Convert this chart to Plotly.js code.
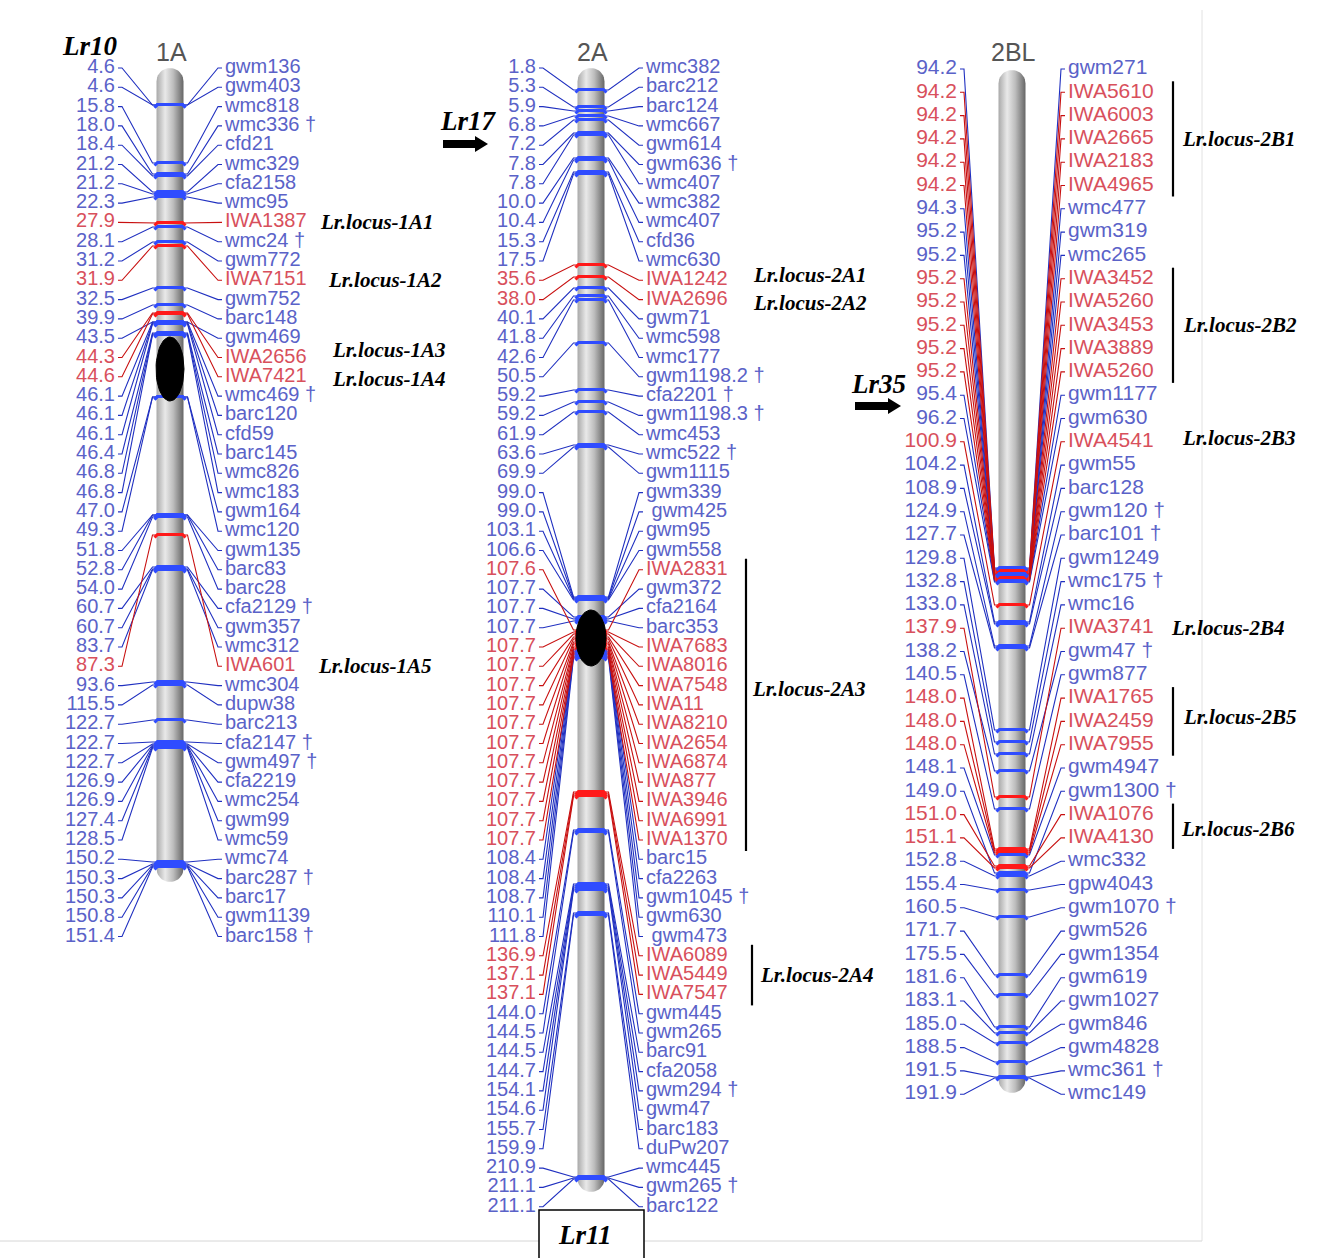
<!DOCTYPE html>
<html><head><meta charset="utf-8">
<script src="https://cdn.plot.ly/plotly-3.0.1.min.js"></script>
<style>html,body{margin:0;padding:0;background:#fff}</style>
</head><body><div id="chart" style="width:1317px;height:1258px"></div>
<script>
// ================= DATA =================
// Chromosome 1A: genetic position (cM), marker name, drawn map position along the bar (offset from bar top)
const cM_1A = [4.6,4.6,15.8,18.0,18.4,21.2,21.2,22.3,27.9,28.1,31.2,31.9,32.5,39.9,43.5,44.3,44.6,46.1,46.1,46.1,46.4,46.8,46.8,47.0,49.3,51.8,52.8,54.0,60.7,60.7,83.7,87.3,93.6,115.5,122.7,122.7,122.7,126.9,126.9,127.4,128.5,150.2,150.3,150.3,150.8,151.4];
const names_1A = ['gwm136','gwm403','wmc818','wmc336 †','cfd21','wmc329','cfa2158','wmc95','IWA1387','wmc24 †','gwm772','IWA7151','gwm752','barc148','gwm469','IWA2656','IWA7421','wmc469 †','barc120','cfd59','barc145','wmc826','wmc183','gwm164','wmc120','gwm135','barc83','barc28','cfa2129 †','gwm357','wmc312','IWA601','wmc304','dupw38','barc213','cfa2147 †','gwm497 †','cfa2219','wmc254','gwm99','wmc59','wmc74','barc287 †','barc17','gwm1139','barc158 †'];
const mapPos_1A = [37,37,95,106,108,124,126,129,155,159,174,178,220,237,254,245,246,254,255,256,265,266,267,329,329,447,447,449,499,501,502,467,614,617,652,674,676,677,678,679,680,794,796,797,798,799];

// Chromosome 2A
const cM_2A = [1.8,5.3,5.9,6.8,7.2,7.8,7.8,10.0,10.4,15.3,17.5,35.6,38.0,40.1,41.8,42.6,50.5,59.2,59.2,61.9,63.6,69.9,99.0,99.0,103.1,106.6,107.6,107.7,107.7,107.7,107.7,107.7,107.7,107.7,107.7,107.7,107.7,107.7,107.7,107.7,107.7,108.4,108.4,108.7,110.1,111.8,136.9,137.1,137.1,144.0,144.5,144.5,144.7,154.1,154.6,155.7,159.9,210.9,211.1,211.1];
const names_2A = ['wmc382','barc212','barc124','wmc667','gwm614','gwm636 †','wmc407','wmc382','wmc407','cfd36','wmc630','IWA1242','IWA2696','gwm71','wmc598','wmc177','gwm1198.2 †','cfa2201 †','gwm1198.3 †','wmc453','wmc522 †','gwm1115','gwm339',' gwm425','gwm95','gwm558','IWA2831','gwm372','cfa2164','barc353','IWA7683','IWA8016','IWA7548','IWA11','IWA8210','IWA2654','IWA6874','IWA877','IWA3946','IWA6991','IWA1370','barc15','cfa2263','gwm1045 †','gwm630',' gwm473','IWA6089','IWA5449','IWA7547','gwm445','gwm265','barc91','cfa2058','gwm294 †','gwm47','barc183','duPw207','wmc445','gwm265 †','barc122'];
const mapPos_2A = [22,39,43,48,52,65,67,90,92,104,106,197,209,220,228,232,275,322,334,344,377,379,529,530,531,532,562,549,551,553,564,566,569,571,574,576,579,581,584,586,589,582,584,586,588,590,724,726,728,762,764,816,818,820,822,845,847,1109,1110,1111];

// Chromosome 2BL
const cM_2BL = [94.2,94.2,94.2,94.2,94.2,94.2,94.3,95.2,95.2,95.2,95.2,95.2,95.2,95.2,95.4,96.2,100.9,104.2,108.9,124.9,127.7,129.8,132.8,133.0,137.9,138.2,140.5,148.0,148.0,148.0,148.1,149.0,151.0,151.1,152.8,155.4,160.5,171.7,175.5,181.6,183.1,185.0,188.5,191.5,191.9];
const names_2BL = ['gwm271','IWA5610','IWA6003','IWA2665','IWA2183','IWA4965','wmc477','gwm319','wmc265','IWA3452','IWA5260','IWA3453','IWA3889','IWA5260','gwm1177','gwm630','IWA4541','gwm55','barc128','gwm120 †','barc101 †','gwm1249','wmc175 †','wmc16','IWA3741','gwm47 †','gwm877','IWA1765','IWA2459','IWA7955','gwm4947','gwm1300 †','IWA1076','IWA4130','wmc332','gpw4043','gwm1070 †','gwm526','gwm1354','gwm619','gwm1027','gwm846','gwm4828','wmc361 †','wmc149'];
const mapPos_2BL = [498,499,500,501,502,503,504,504,505,506,507,508,509,510,511,512,535,552,554,576,578,660,672,684,727,701,739,779,781,783,785,803,796,798,806,820,847,905,925,957,963,973,992,1007,1008];

// Leaf-rust loci (label, chromosome, row index where label sits, bracket rows)
const lociText  = ['Lr.locus-1A1','Lr.locus-1A2','Lr.locus-1A3','Lr.locus-1A4','Lr.locus-1A5','Lr.locus-2A1','Lr.locus-2A2','Lr.locus-2A3','Lr.locus-2A4','Lr.locus-2B1','Lr.locus-2B2','Lr.locus-2B3','Lr.locus-2B4','Lr.locus-2B5','Lr.locus-2B6'];
const lociChrom = [0,0,0,0,0,1,1,1,1,2,2,2,2,2,2];
const lociRow   = [8,11,14.6,16.1,31,10.7,12.2,32.2,47,3,11,15.85,24,27.8,32.6];
const lociBracket = [null,null,null,null,null,null,null,[26,40],[46,48],[1,5],[9,13],null,null,[27,29],[32,33]];
// Known genes
const genes = ['Lr10','Lr17','Lr35','Lr11'];
const chromNames = ['1A','2A','2BL'];

// ================= LAYOUT / DRAWING =================
const BLUE_TXT='#5a62c8', RED_TXT='#d8505c', BLUE_LN='#2030c0', RED_LN='#c81010', BLUE_TK='#2f4cff', RED_TK='#ff1a1a';
const chroms = [
 {cM:cM_1A, names:names_1A, pos:mapPos_1A, cx:170, top:68, bottom:882, w:27, row0:68, rowH:19.3, labL:115, labR:225, fs:20, cen:{y:369, ry:32, rx:14}, locX:[318,326,330,330,316]},
 {cM:cM_2A, names:names_2A, pos:mapPos_2A, cx:591, top:68, bottom:1192, w:27, row0:68, rowH:19.3, labL:536, labR:646, fs:20, cen:{y:638, ry:28, rx:15}, locX:[751,751,750,758], brX:[746,752]},
 {cM:cM_2BL, names:names_2BL, pos:mapPos_2BL, cx:1012, top:70, bottom:1093, w:27, row0:69, rowH:23.3, labL:957, labR:1068, fs:21, locX:[1180,1181,1180,1169,1181,1179], brX:1173}
];
const rowY = (c,i) => c.row0 + i*c.rowH;
const isRed = n => n.trim().startsWith('IWA');

const traces = [];
const shapes = [];
const annotations = [];
const base = {hoverinfo:'skip', showlegend:false, cliponaxis:false};

chroms.forEach((c, ci) => {
  const r = c.w/2, xl = c.cx - r, xr = c.cx + r;
  // chromosome body with rounded caps
  const bx=[], by=[];
  for (let k=0;k<=20;k++){ const t=Math.PI*k/20; bx.push(c.cx - r*Math.cos(t)); by.push(c.top + r - r*Math.sin(t)); }
  for (let k=0;k<=20;k++){ const t=Math.PI*k/20; bx.push(c.cx + r*Math.cos(t)); by.push(c.bottom - r + r*Math.sin(t)); }
  bx.push(bx[0]); by.push(by[0]);
  traces.push(Object.assign({type:'scatter', mode:'lines', x:bx, y:by, fill:'toself', line:{width:0, color:'rgba(0,0,0,0)'},
    fillcolor:'#bbbbbb',
    fillgradient:{type:'horizontal', start:xl, stop:xr, colorscale:[[0,'#a9a9a9'],[0.32,'#e9e9e9'],[0.62,'#bdbdbd'],[1,'#666666']]}}, base));

  // connectors and ticks
  const conn = {b:{x:[],y:[]}, r:{x:[],y:[]}}, tick = {b:{x:[],y:[]}, r:{x:[],y:[]}};
  c.names.forEach((n,i) => {
    const k = isRed(n) ? 'r' : 'b';
    const ly = rowY(c,i), ty = c.top + c.pos[i];
    const L = conn[k];
    L.x.push(c.labL+3, c.labL+7, xl-4, xl, null); L.y.push(ly, ly, ty, ty, null);
    L.x.push(c.labR-3, c.labR-7, xr+4, xr, null); L.y.push(ly, ly, ty, ty, null);
    const T = tick[k];
    T.x.push(xl-2, xl+1, xr-1, xr+2, null); T.y.push(ty+2.5, ty-0.5, ty-0.5, ty+2.5, null);
  });
  traces.push(Object.assign({type:'scatter', mode:'lines', x:conn.b.x, y:conn.b.y, line:{color:BLUE_LN, width:1.1}}, base));
  traces.push(Object.assign({type:'scatter', mode:'lines', x:conn.r.x, y:conn.r.y, line:{color:RED_LN, width:1.1}}, base));
  traces.push(Object.assign({type:'scatter', mode:'lines', x:tick.r.x, y:tick.r.y, line:{color:RED_TK, width:3}}, base));
  traces.push(Object.assign({type:'scatter', mode:'lines', x:tick.b.x, y:tick.b.y, line:{color:BLUE_TK, width:3}}, base));

  // centromere
  if (c.cen){
    const ex=[], ey=[];
    for (let k=0;k<=48;k++){ const t=2*Math.PI*k/48; ex.push(c.cx + c.cen.rx*Math.cos(t)); ey.push(c.cen.y + c.cen.ry*Math.sin(t)); }
    traces.push(Object.assign({type:'scatter', mode:'lines', x:ex, y:ey, fill:'toself', fillcolor:'#000', line:{color:'#000', width:1}}, base));
  }

  // labels
  const ys = c.names.map((n,i)=>rowY(c,i));
  const cols = c.names.map(n => isRed(n) ? RED_TXT : BLUE_TXT);
  traces.push(Object.assign({type:'scatter', mode:'text', x:c.names.map(()=>c.labL), y:ys, text:c.cM.map(v=>v.toFixed(1)),
    textposition:'middle left', textfont:{family:'Liberation Sans, Arial', size:c.fs, color:cols}}, base));
  traces.push(Object.assign({type:'scatter', mode:'text', x:c.names.map(()=>c.labR), y:ys, text:c.names,
    textposition:'middle right', textfont:{family:'Liberation Sans, Arial', size:c.fs, color:cols}}, base));

  // chromosome title
  annotations.push({x:c.cx+1, y:52, xref:'x', yref:'y', text:chromNames[ci], showarrow:false,
    font:{family:'Liberation Sans, Arial', size:25, color:'#555'}, xanchor:'center', yanchor:'middle'});
});

// loci labels and brackets
const locCount = [0,0,0];
lociText.forEach((t,j) => {
  const ci = lociChrom[j], c = chroms[ci];
  const idx = locCount[ci]++;
  annotations.push({x:c.locX[idx], y:rowY(c, lociRow[j]), xref:'x', yref:'y', text:'<b><i>'+t+'</i></b>', showarrow:false,
    xanchor:'left', yanchor:'middle', font:{family:'Liberation Serif, Times New Roman', size:21, color:'#000'}});
  const br = lociBracket[j];
  if (br){
    const bx = ci===1 ? (t.endsWith('3') ? c.brX[0] : c.brX[1]) : c.brX;
    shapes.push({type:'line', xref:'x', yref:'y', x0:bx, x1:bx, y0:rowY(c,br[0])-11, y1:rowY(c,br[1])+11, line:{color:'#000', width:2.2}});
  }
});

// gene labels
const gfont = {family:'Liberation Serif, Times New Roman', size:27, color:'#000'};
annotations.push({x:90, y:46, text:'<b><i>'+genes[0]+'</i></b>', showarrow:false, font:gfont, xref:'x', yref:'y'});
annotations.push({x:468, y:121, text:'<b><i>'+genes[1]+'</i></b>', showarrow:false, font:gfont, xref:'x', yref:'y'});
annotations.push({x:878, y:384, text:'<b><i>'+genes[2]+'</i></b>', showarrow:false, font:gfont, xref:'x', yref:'y'});
annotations.push({x:585, y:1235, text:'<b><i>'+genes[3]+'</i></b>', showarrow:false, font:gfont, xref:'x', yref:'y'});

// arrows
function arrow(x0, x1, y){
  shapes.push({type:'rect', xref:'x', yref:'y', x0:x0, x1:x1-12, y0:y-4, y1:y+4, fillcolor:'#000', line:{width:0}});
  shapes.push({type:'path', xref:'x', yref:'y', path:`M${x1-13},${y-8} L${x1},${y} L${x1-13},${y+8} Z`, fillcolor:'#000', line:{width:0}});
}
arrow(443, 488, 144);
arrow(855, 901, 406);

// frame lines and Lr11 box
shapes.push({type:'line', xref:'x', yref:'y', x0:1202, x1:1202, y0:10, y1:1241, line:{color:'#e2e2e2', width:1}});
shapes.push({type:'line', xref:'x', yref:'y', x0:0, x1:1202, y0:1241, y1:1241, line:{color:'#d6d6d6', width:1}});
shapes.push({type:'rect', xref:'x', yref:'y', x0:539, x1:644, y0:1210, y1:1262, fillcolor:'#fff', line:{color:'#000', width:1.5}, layer:'above'});

const layout = {
  width:1317, height:1258, margin:{l:0,r:0,t:0,b:0},
  paper_bgcolor:'#fff', plot_bgcolor:'#fff', showlegend:false,
  xaxis:{range:[0,1317], visible:false, fixedrange:true},
  yaxis:{range:[1258,0], visible:false, fixedrange:true},
  shapes:shapes, annotations:annotations, hovermode:false
};
Plotly.newPlot('chart', traces, layout, {staticPlot:true, displayModeBar:false});
</script></body></html>
